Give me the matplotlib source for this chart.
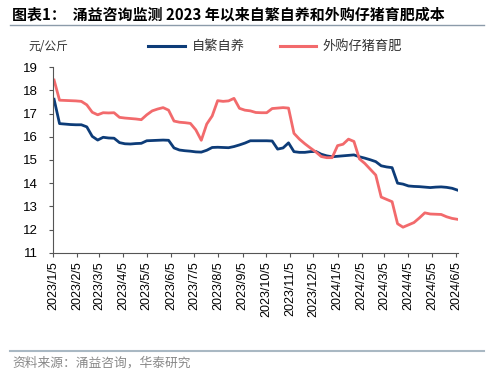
import matplotlib
matplotlib.use("Agg")
import matplotlib.pyplot as plt
import pandas as pd
from matplotlib.lines import Line2D

plt.rcParams['font.family'] = ['Liberation Sans', 'Noto Sans CJK SC', 'DejaVu Sans']

dates = pd.date_range('2023-01-06', periods=75, freq='7D')

self_bred = [17.62, 16.57, 16.55, 16.53, 16.52, 16.52, 16.43, 16.02, 15.86, 15.98,
             15.95, 15.94, 15.75, 15.70, 15.69, 15.71, 15.72, 15.83, 15.84, 15.85,
             15.86, 15.85, 15.52, 15.43, 15.40, 15.38, 15.35, 15.34, 15.42, 15.54,
             15.55, 15.54, 15.53, 15.58, 15.65, 15.73, 15.83, 15.83, 15.83, 15.83,
             15.82, 15.47, 15.52, 15.74, 15.36, 15.33, 15.33, 15.36, 15.37, 15.25,
             15.18, 15.14, 15.16, 15.18, 15.20, 15.22, 15.14, 15.08, 15.01, 14.93,
             14.75, 14.70, 14.67, 14.00, 13.96, 13.88, 13.86, 13.85, 13.83, 13.81,
             13.83, 13.84, 13.82, 13.78, 13.70]

purchased = [18.45, 17.58, 17.57, 17.56, 17.55, 17.53, 17.38, 17.06, 16.95, 17.04,
             17.03, 17.04, 16.84, 16.81, 16.79, 16.77, 16.74, 16.95, 17.12, 17.20,
             17.26, 17.15, 16.68, 16.63, 16.61, 16.58, 16.30, 15.85, 16.55, 16.90,
             17.56, 17.53, 17.55, 17.66, 17.23, 17.15, 17.12, 17.05, 17.04, 17.04,
             17.22, 17.24, 17.26, 17.24, 16.15, 15.90, 15.70, 15.52, 15.35, 15.15,
             15.10, 15.10, 15.62, 15.68, 15.90, 15.80, 15.05, 14.85, 14.60, 14.35,
             13.40, 13.30, 13.20, 12.25, 12.10, 12.20, 12.30, 12.50, 12.72, 12.67,
             12.66, 12.65, 12.55, 12.48, 12.44]

tick_dates = pd.date_range('2023-01-01', '2024-06-01', freq='MS') + pd.Timedelta(days=4)
tick_labels = [f"{d.year}/{d.month}/{d.day}" for d in tick_dates]

title = "图表1：  涌益咨询监测 2023 年以来自繁自养和外购仔猪育肥成本"
unit = "元/公斤"
names = ["自繁自养", "外购仔猪育肥"]
source = "资料来源：涌益咨询，华泰研究"

blue = "#0D3C78"
pink = "#F26A6C"

fig = plt.figure(figsize=(5, 3.77), dpi=100)
ax = fig.add_axes([0.1066, 0.3297, 0.81, 0.4918])

ax.plot(dates, self_bred, color=blue, lw=2.0, solid_joinstyle='round')
ax.plot(dates, purchased, color=pink, lw=2.0, solid_joinstyle='round')

ax.set_ylim(11, 19)
ax.set_yticks(range(11, 20))
ax.set_xlim(tick_dates[0], tick_dates[-1] + pd.Timedelta(days=3))
ax.set_xticks(tick_dates)
ax.set_xticklabels(tick_labels, rotation=90, fontsize=9)
ax.tick_params(axis='y', labelsize=9.5, length=3, width=0.8, color='#555555', pad=8)
ax.tick_params(axis='x', length=3, width=0.8, color='#555555', pad=3)
for s in ['top', 'right']:
    ax.spines[s].set_visible(False)
for s in ['left', 'bottom']:
    ax.spines[s].set_color('#555555')
    ax.spines[s].set_linewidth(0.8)

fig.text(0.024, 0.962, title, fontsize=10.8, fontweight='bold',
         family=['Noto Sans CJK SC', 'DejaVu Sans'], va='center', ha='left')
fig.add_artist(Line2D([0.02, 0.968], [0.935, 0.935], color='#8C9BAA', lw=1.0))
fig.text(0.056, 0.877, unit, fontsize=8.5, family=['Noto Sans CJK SC'], va='center', ha='left', color='#333333')

fig.add_artist(Line2D([0.296, 0.37], [0.877, 0.877], color=blue, lw=2.2))
fig.text(0.383, 0.877, names[0], fontsize=9.5, family=['Noto Sans CJK SC'], va='center', ha='left', color='#333333')
fig.add_artist(Line2D([0.56, 0.632], [0.877, 0.877], color=pink, lw=2.2))
fig.text(0.644, 0.877, names[1], fontsize=9.5, family=['Noto Sans CJK SC'], va='center', ha='left', color='#333333')

fig.add_artist(Line2D([0.02, 0.968], [0.068, 0.068], color='#A9B8C3', lw=1.5))
fig.text(0.024, 0.038, source, fontsize=9.2, family=['Noto Sans CJK SC'], va='center', ha='left', color='#888888')

fig.savefig("out.png", dpi=100)
